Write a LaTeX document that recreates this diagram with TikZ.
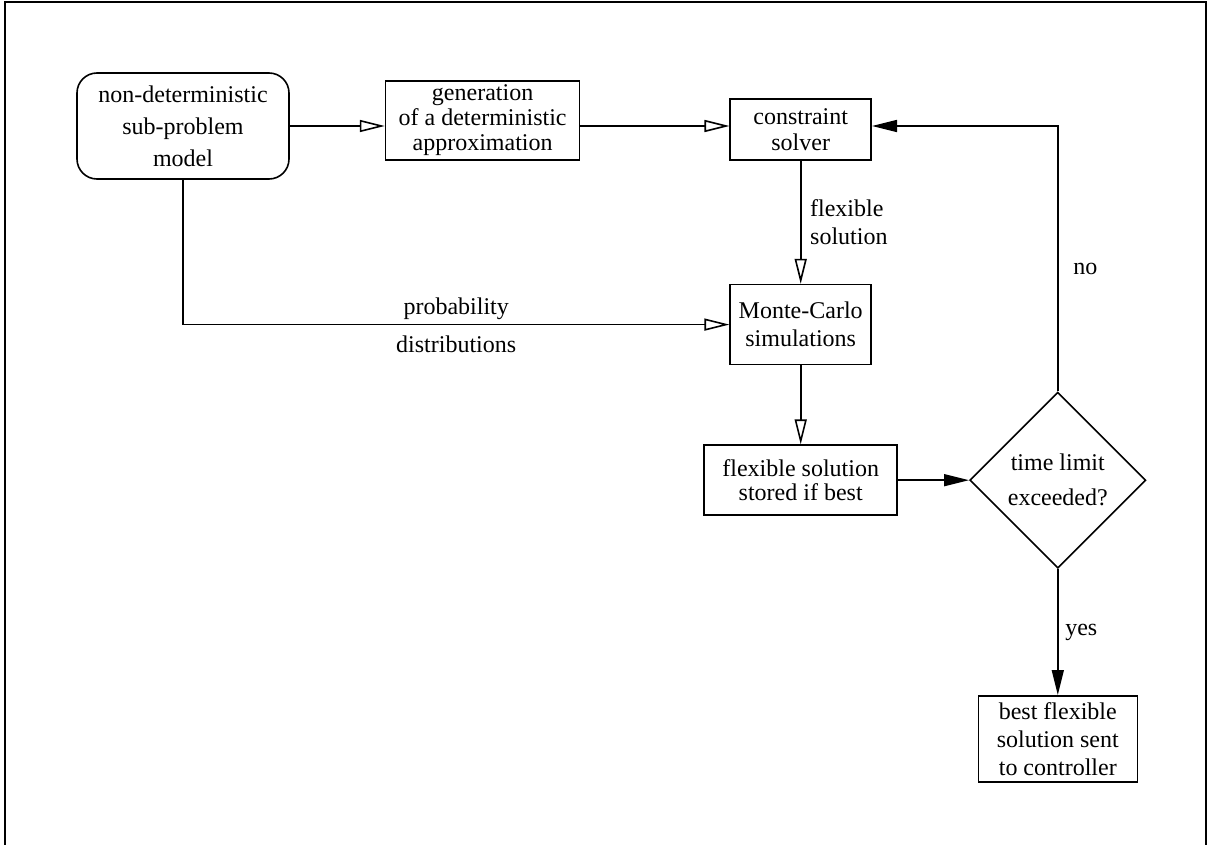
\documentclass[tikz,border=0pt]{standalone}
\usepackage{fontspec}
\setmainfont{Liberation Serif}
\usetikzlibrary{shapes.geometric,arrows.meta,positioning}

\begin{document}
\begin{tikzpicture}[x=0.5pt,y=-0.5pt,font=\fontsize{12}{14}\selectfont]
\tikzset{procbox/.style={rectangle,draw,line width=0.8pt,align=center,inner sep=1pt},
  roundbox/.style={procbox,rounded corners=10pt},
  decision/.style={diamond,draw,line width=0.8pt,aspect=1,align=center,inner sep=0pt,minimum size=88pt},
  hollowarrow/.style={line width=0.8pt,-{Triangle[open,length=12.5pt,width=6pt]}},
  solidarrow/.style={line width=0.8pt,-{Triangle[length=12.5pt,width=6pt]}}}
\useasboundingbox (0,0) rectangle (1209,845);
\draw[line width=1pt] (5,845) -- (5,2) -- (1206,2) -- (1206,845);
\node[roundbox,minimum width=106pt,minimum height=53pt,font=\fontsize{12}{16}\selectfont](model) at (183,126){non-deterministic\\sub-problem\\model};
\node[procbox,minimum width=97pt,minimum height=39.5pt,font=\fontsize{12}{12.5}\selectfont](gen)[right=47.5pt of model,yshift=2.75pt]{generation\\of a deterministic\\approximation};
\draw[hollowarrow](model) -- (model -| gen.west);
\node[procbox,minimum width=70.5pt,minimum height=30.5pt,font=\fontsize{12}{13}\selectfont](cons)[right=74.5pt of gen,yshift=-4.5pt]{constraint\\solver};
\draw[hollowarrow](model -| gen.east) -- (model -| cons.west);
\node[procbox,minimum width=70.5pt,minimum height=40pt](mc)[below=61.5pt of cons]{Monte-Carlo\\simulations};
\draw[hollowarrow](cons) -- node[right=1pt,align=left]{flexible\\solution} (mc);
\draw[hollowarrow](model.south) |- node[pos=0.75,above=-1.5pt]{probability} node[pos=0.75,below=2pt]{distributions} (mc.west);
\node[procbox,minimum width=96.5pt,minimum height=35pt,font=\fontsize{12}{12}\selectfont](store)[below=39.5pt of mc]{flexible solution\\stored if best};
\draw[hollowarrow](mc) -- (store);
\node[decision,font=\fontsize{12}{17.5}\selectfont](dec)[right=35.5pt of store]{time limit\\exceeded?};
\draw[solidarrow](store) -- (dec);
\node[procbox,minimum width=79.5pt,minimum height=43pt](best)[below=63pt of dec]{best flexible\\solution sent\\to controller};
\draw[solidarrow](dec) -- node[right]{yes} (best);
\draw[solidarrow](dec.north) |- node[pos=0.23,right=4pt]{no} (model -| cons.east);
\end{tikzpicture}
\end{document}
